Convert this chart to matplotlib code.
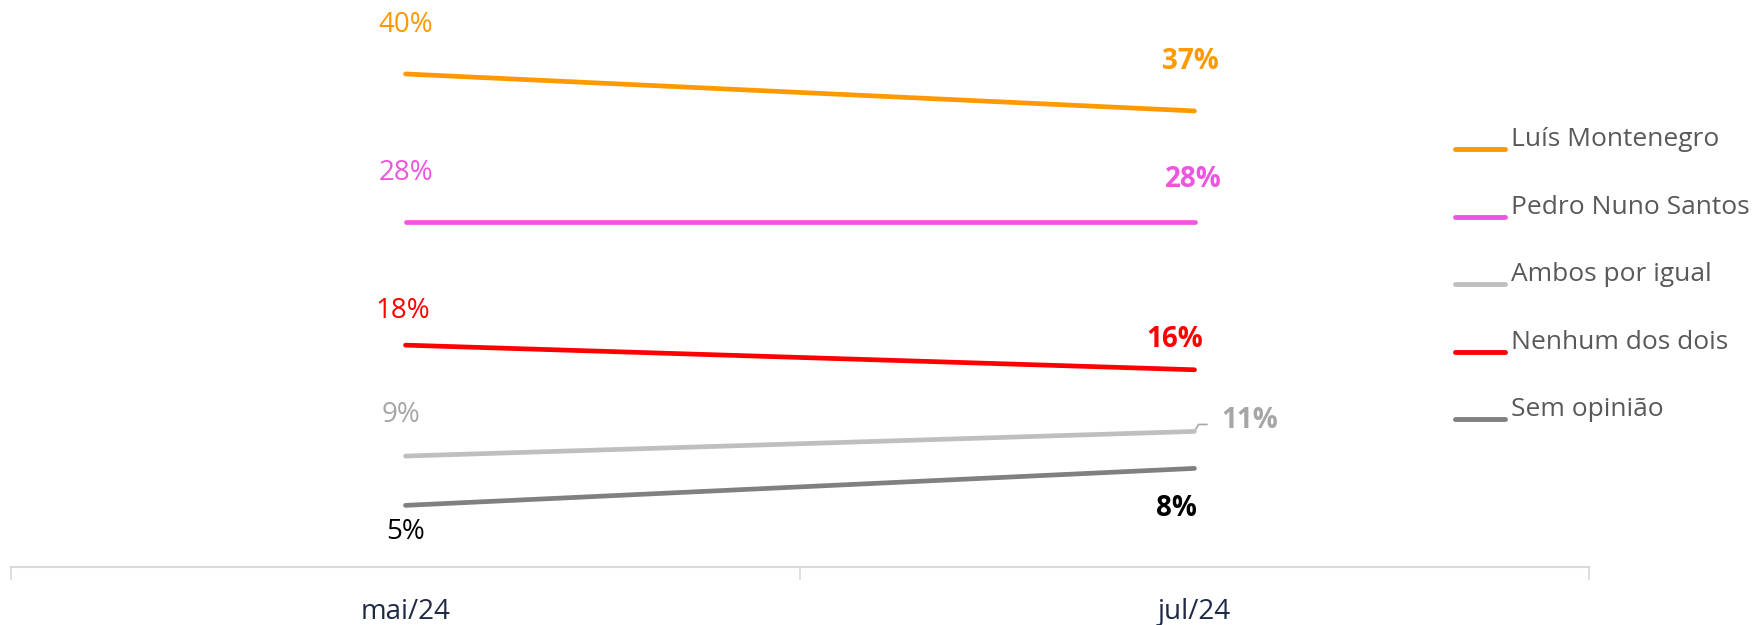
import matplotlib
matplotlib.use("Agg")
import matplotlib.pyplot as plt
from matplotlib.lines import Line2D

plt.rcParams['font.family'] = ['Open Sans', 'DejaVu Sans']

# data
periods = ["mai/24", "jul/24"]
series_names = ["Luís Montenegro", "Pedro Nuno Santos", "Ambos por igual",
                "Nenhum dos dois", "Sem opinião"]
montenegro = [40, 37]
pedro_nuno = [28, 28]
ambos = [9, 11]
nenhum = [18, 16]
sem_opiniao = [5, 8]

# styles
line_colors = ["#FF9900", "#F055E0", "#BFBFBF", "#FF0000", "#808080"]
left_label_colors = ["#FF9900", "#F055E0", "#A6A6A6", "#FF0000", "#000000"]
right_label_colors = ["#FF9900", "#F055E0", "#A6A6A6", "#FF0000", "#000000"]
# label offsets in points (dx, dy) for first / last point
left_offsets = [(0, 35.5), (0, 35.5), (-3, 29.5), (-2, 24.5), (0, -19)]
right_offsets = [(-3, 35.5), (-1, 30.5), (40, 7.5), (-14, 21.5), (-13, -29)]

all_series = [montenegro, pedro_nuno, ambos, nenhum, sem_opiniao]

fig = plt.figure(figsize=(17.57, 6.25), dpi=100)
ax = fig.add_axes([11 / 1757, 58 / 625, 1578 / 1757, 567 / 625])

x = list(range(len(periods)))
for vals, col in zip(all_series, line_colors):
    ax.plot(x, vals, color=col, lw=3.4, solid_capstyle='round', zorder=3)

fs = 20
for vals, lc, rc, lo, ro in zip(all_series, left_label_colors, right_label_colors,
                                 left_offsets, right_offsets):
    ax.annotate(f"{vals[0]}%", xy=(0, vals[0]), xytext=lo, textcoords='offset points',
                ha='center', va='center', color=lc, fontsize=fs)
    ax.annotate(f"{vals[-1]}%", xy=(1, vals[-1]), xytext=ro, textcoords='offset points',
                ha='center', va='center', color=rc, fontsize=fs, fontweight='bold')
    if ro[0] > 20:
        # leader line
        ax.annotate("", xy=(1, vals[-1]), xytext=(11, 5), textcoords='offset points',
                    arrowprops=dict(arrowstyle='-', color=rc, lw=1.2,
                                    connectionstyle='angle,angleA=0,angleB=60,rad=0'))

ax.set_xlim(-0.5, 1.5)
ax.set_ylim(0, 46)
for s in ['top', 'right', 'left']:
    ax.spines[s].set_visible(False)
ax.spines['bottom'].set_color('#D9D9D9')
ax.spines['bottom'].set_linewidth(1.5)
ax.set_yticks([])
ax.set_xticks([-0.5, 0.5, 1.5])
ax.set_xticklabels([])
ax.tick_params(axis='x', which='major', length=9, width=1.2, color='#D9D9D9')
ax.set_xticks(x, minor=True)
ax.set_xticklabels(periods, minor=True)
ax.tick_params(axis='x', which='minor', length=0, pad=22, labelsize=fs, labelcolor='#1F2A44')

# legend drawn by hand
W, H = 1757, 625
for i, (name, col) in enumerate(zip(series_names, line_colors)):
    ty = 140 + i * 67.5
    fig.add_artist(Line2D([1455 / W, 1505 / W], [1 - (ty + 9) / H] * 2, color=col,
                          lw=3.5, solid_capstyle='round', transform=fig.transFigure))
    fig.text(1511 / W, 1 - ty / H, name, fontsize=19, color='#595959',
             ha='left', va='center')

fig.savefig("out.png", dpi=100)
